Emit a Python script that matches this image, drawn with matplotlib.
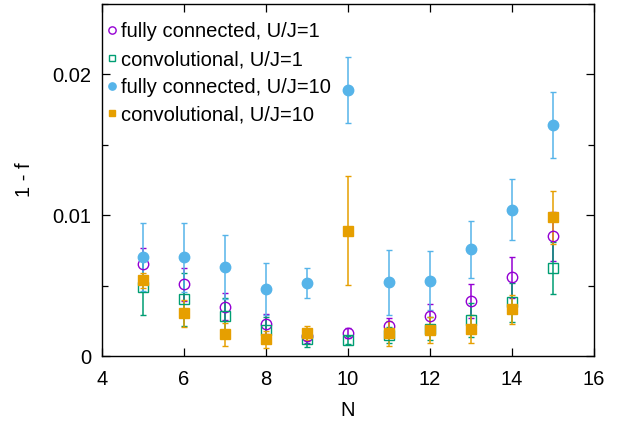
import matplotlib
matplotlib.use("Agg")
import matplotlib.pyplot as plt
from matplotlib.ticker import MultipleLocator, FuncFormatter

plt.rcParams['font.family'] = ['Liberation Sans', 'DejaVu Sans']

# system sizes
N = [5, 6, 7, 8, 9, 10, 11, 12, 13, 14, 15]

# fully connected, U/J=1
fc1 = [0.00652, 0.00508, 0.00350, 0.00227, 0.00140, 0.00165, 0.00213, 0.00281, 0.00388, 0.00558, 0.00851]
fc1_err = [0.00114, 0.00114, 0.00095, 0.00070, 0.00050, 0.00035, 0.00060, 0.00090, 0.00120, 0.00146, 0.00175]

# convolutional, U/J=1
cv1 = [0.00492, 0.00402, 0.00281, 0.00184, 0.00118, 0.00113, 0.00149, 0.00195, 0.00253, 0.00381, 0.00626]
cv1_err = [0.00200, 0.00190, 0.00128, 0.00090, 0.00052, 0.00030, 0.00060, 0.00080, 0.00120, 0.00140, 0.00184]

# fully connected, U/J=10
fc10 = [0.00704, 0.00700, 0.00633, 0.00473, 0.00518, 0.01891, 0.00523, 0.00534, 0.00757, 0.01040, 0.01643]
fc10_err = [0.00241, 0.00248, 0.00225, 0.00184, 0.00108, 0.00234, 0.00230, 0.00210, 0.00200, 0.00215, 0.00234]

# convolutional, U/J=10
cv10 = [0.00537, 0.00303, 0.00154, 0.00118, 0.00161, 0.00891, 0.00161, 0.00184, 0.00191, 0.00331, 0.00984]
cv10_err = [0.00055, 0.00097, 0.00083, 0.00060, 0.00050, 0.00388, 0.00090, 0.00095, 0.00100, 0.00105, 0.00190]

fig = plt.figure(figsize=(6.27, 4.25), dpi=100)
ax = fig.add_axes([102 / 627, 1 - 356 / 425, 492 / 627, 352 / 425])

series = [
    (fc1, fc1_err, 'o', '#9400D3', True, 'fully connected, U/J=1'),
    (cv1, cv1_err, 's', '#009E73', True, 'convolutional, U/J=1'),
    (fc10, fc10_err, 'o', '#56B4E9', False, 'fully connected, U/J=10'),
    (cv10, cv10_err, 's', '#E69F00', False, 'convolutional, U/J=10'),
]

handles = []
for y, err, m, c, hollow, lab in series:
    cont = ax.errorbar(N, y, yerr=err, fmt=m, color=c, ecolor=c,
                       mfc='none' if hollow else c, mec=c, ms=7.5 if m == 'o' else 7,
                       mew=1.0, elinewidth=1.1, capsize=2.5, capthick=1.1, label=lab)
    handles.append(cont[0])

ax.set_xlim(4, 16)
ax.set_ylim(0, 0.025)
ax.xaxis.set_major_locator(MultipleLocator(2))
ax.yaxis.set_major_locator(MultipleLocator(0.01))
ax.yaxis.set_minor_locator(MultipleLocator(0.005))
ax.yaxis.set_major_formatter(FuncFormatter(lambda v, p: '0' if v == 0 else f'{v:g}'))
ax.tick_params(which='both', direction='in', top=True, right=True, labelsize=14.5)
ax.tick_params(axis='x', which='major', length=6, width=0.9, pad=10)
ax.tick_params(axis='y', which='major', length=6, width=0.9, pad=8)
ax.tick_params(which='minor', length=4, width=0.9)
for s in ax.spines.values():
    s.set_linewidth(1.0)

ax.set_xlabel('N', fontsize=14.5, labelpad=9)
ax.set_ylabel('1 - f', fontsize=14.5, labelpad=13)

ax.legend(handles=handles, labels=[s[5] for s in series], loc='upper left',
          frameon=False, fontsize=14.5, markerscale=0.7, handlelength=0.4,
          handletextpad=0.25, labelspacing=0.43, borderaxespad=0.0,
          borderpad=0.3, bbox_to_anchor=(0.0, 0.965))

fig.savefig('out.png', dpi=100)
